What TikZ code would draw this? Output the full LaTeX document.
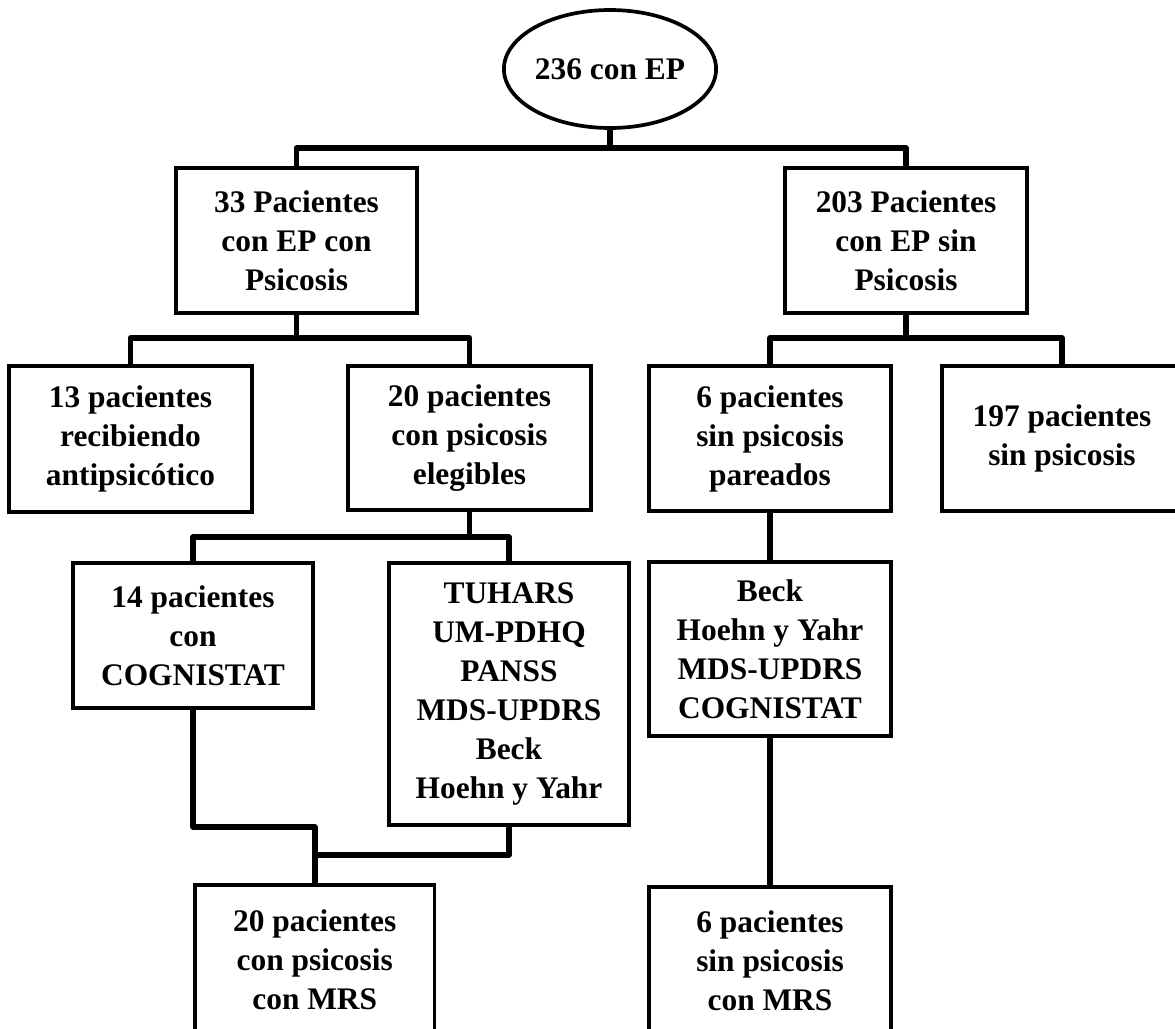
\documentclass[tikz,border=0pt]{standalone}
\usepackage{fontspec}
\setmainfont{Liberation Serif}
\usetikzlibrary{shapes.geometric}
\tikzset{
  box/.style={draw, line width=1.85pt, rectangle, align=center, inner sep=0pt,
    font=\fontsize{15.7}{19.5}\selectfont\bfseries},
  oval/.style={draw, line width=1.85pt, ellipse, align=center, inner sep=0pt,
    font=\fontsize{15.7}{19.5}\selectfont\bfseries},
  link/.style={line width=2.75pt, line join=round}
}
\begin{document}
\begin{tikzpicture}[x=0.5pt, y=-0.5pt]
\clip (0,0) rectangle (1175,1029);
\fill[white] (0,0) rectangle (1175,1029);

\node[oval, minimum width=100pt, minimum height=59pt] (top) at (610,69) {236 con EP};

\node[box, minimum width=120.5pt, minimum height=72.5pt] (n33) at (296.5,240.5) {33 Pacientes\\con EP con\\Psicosis};
\node[box, minimum width=121pt, minimum height=72.5pt] (n203) at (906,240.5) {203 Pacientes\\con EP sin\\Psicosis};

\node[box, minimum width=121.5pt, minimum height=73pt] (n13) at (130.5,439) {13 pacientes\\recibiendo\\antipsicótico};
\node[box, minimum width=121.5pt, minimum height=72pt] (n20) at (469.5,438) {20 pacientes\\con psicosis\\elegibles};
\node[box, minimum width=121pt, minimum height=72.5pt] (n6p) at (770,438.5) {6 pacientes\\sin psicosis\\pareados};
\node[box, minimum width=120pt, minimum height=72.5pt] (n197) at (1062,438.5) {197 pacientes\\sin psicosis};

\node[box, minimum width=120.25pt, minimum height=72.5pt] (n14) at (193,635.5) {14 pacientes\\con\\COGNISTAT};
\node[box, minimum width=120.25pt, minimum height=131pt] (ntu) at (509,694) {TUHARS\\UM-PDHQ\\PANSS\\MDS-UPDRS\\Beck\\Hoehn y Yahr};
\node[box, minimum width=121pt, minimum height=87pt] (nbeck) at (770,649) {Beck\\Hoehn y Yahr\\MDS-UPDRS\\COGNISTAT};

\node[box, minimum width=119.75pt, minimum height=75pt] (n20m) at (314.75,960) {20 pacientes\\con psicosis\\con MRS};
\node[box, minimum width=121pt, minimum height=74pt] (n6m) at (770,961) {6 pacientes\\sin psicosis\\con MRS};

\coordinate (bus1) at (610,148);
\coordinate (bus2) at (296.5,338);
\coordinate (bus3) at (906,338);
\coordinate (bus4) at (469.5,537);
\coordinate (j1) at (314.75,827);
\coordinate (j2) at (314.75,855);

\draw[link] (top.south) -- (bus1);
\draw[link] (n33.north) |- (bus1) -| (n203.north);
\draw[link] (n33.south) -- (bus2);
\draw[link] (n13.north) |- (bus2) -| (n20.north);
\draw[link] (n203.south) -- (bus3);
\draw[link] (n6p.north) |- (bus3) -| (n197.north);
\draw[link] (n20.south) -- (bus4);
\draw[link] (n14.north) |- (bus4) -| (ntu.north);
\draw[link] (n6p.south) -- (nbeck.north);
\draw[link] (n14.south) |- (j1) -- (n20m.north);
\draw[link] (ntu.south) |- (j2);
\draw[link] (nbeck.south) -- (n6m.north);
\end{tikzpicture}
\end{document}
